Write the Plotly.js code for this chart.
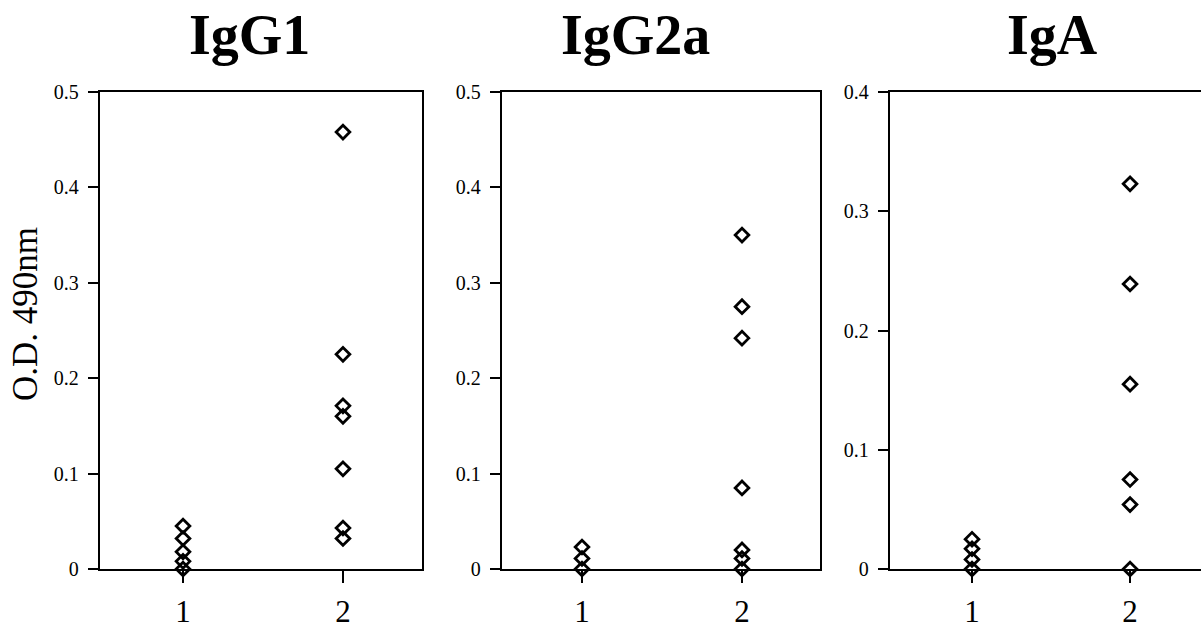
<!DOCTYPE html>
<html>
<head>
<meta charset="utf-8">
<script src="https://cdn.plot.ly/plotly-3.0.1.min.js"></script>
<style>html,body{margin:0;padding:0;background:#fff;}#chart{width:1201px;height:632px;}</style>
</head>
<body>
<div id="chart"></div>
<script>
// ---- data ----
const panelTitles = ['IgG1', 'IgG2a', 'IgA'];
const groups = [1, 2];
const groupLabels = ['1', '2'];
const yTitle = 'O.D. 490nm';

const igg1_g1 = [0.045, 0.032, 0.018, 0.008, 0];
const igg1_g2 = [0.458, 0.225, 0.171, 0.160, 0.105, 0.043, 0.032];
const igg2a_g1 = [0.023, 0.011, 0];
const igg2a_g2 = [0.350, 0.275, 0.242, 0.085, 0.020, 0.011, 0];
const iga_g1 = [0.025, 0.017, 0.008, 0];
const iga_g2 = [0.323, 0.239, 0.155, 0.075, 0.054, 0];

const yMax = [0.5, 0.5, 0.4];

// ---- build ----
(function () {
  const W = 1201, H = 632;
  const FONT = 'Liberation Serif, Times New Roman, serif';
  const panelData = [[igg1_g1, igg1_g2], [igg2a_g1, igg2a_g2], [iga_g1, iga_g2]];

  const traces = [];
  panelData.forEach((pd, p) => {
    const xs = [], ys = [];
    pd.forEach((vals, g) => vals.forEach(v => { xs.push(groups[g]); ys.push(v); }));
    traces.push({
      type: 'scatter', mode: 'markers',
      x: xs, y: ys,
      xaxis: p === 0 ? 'x' : 'x' + (p + 1),
      yaxis: p === 0 ? 'y' : 'y' + (p + 1),
      cliponaxis: false,
      marker: {symbol: 'diamond-open', size: 10.5, color: '#000', line: {color: '#000', width: 2.8}},
      hoverinfo: 'skip', showlegend: false
    });
  });

  const frames = [
    {l: 100, r: 422, xr: [0.481, 2.494], mirrorY: true},
    {l: 502, r: 820, xr: [0.5, 2.4875], mirrorY: true},
    {l: 890, r: 1201, xr: [0.481, 2.449], mirrorY: false}
  ];
  const topPx = 92, bottomPx = 569;

  const layout = {
    width: W, height: H,
    margin: {l: 0, r: 0, t: 0, b: 0},
    paper_bgcolor: '#fff', plot_bgcolor: '#fff',
    showlegend: false,
    font: {family: FONT, color: '#000'},
    annotations: []
  };

  frames.forEach((f, i) => {
    const xk = i === 0 ? 'xaxis' : 'xaxis' + (i + 1);
    const yk = i === 0 ? 'yaxis' : 'yaxis' + (i + 1);
    layout[xk] = {
      domain: [f.l / W, f.r / W], range: f.xr,
      anchor: i === 0 ? 'y' : 'y' + (i + 1),
      tickmode: 'array', tickvals: groups, ticktext: groupLabels,
      ticks: 'outside', ticklen: 12, tickwidth: 2, tickcolor: '#000',
      showline: true, linecolor: '#000', linewidth: 2.2, mirror: true,
      showgrid: false, zeroline: false,
      tickfont: {family: FONT, size: 31, color: '#000'},
      ticklabelstandoff: 2,
      fixedrange: true
    };
    layout[yk] = {
      domain: [1 - bottomPx / H, 1 - topPx / H], range: [0, yMax[i]],
      anchor: i === 0 ? 'x' : 'x' + (i + 1),
      dtick: 0.1, tick0: 0,
      ticks: 'outside', ticklen: 10, tickwidth: 2, tickcolor: '#000',
      showline: true, linecolor: '#000', linewidth: 2.2, mirror: f.mirrorY,
      showgrid: false, zeroline: false,
      tickfont: {family: FONT, size: 20, color: '#000'},
      ticklabelstandoff: 5,
      fixedrange: true
    };
  });

  const titleCenters = [250, 635, 1052];
  panelTitles.forEach((t, i) => {
    layout.annotations.push({
      text: '<b>' + t + '</b>', xref: 'paper', yref: 'paper',
      x: titleCenters[i] / W, y: 1 - 35 / H,
      xanchor: 'center', yanchor: 'middle', showarrow: false,
      font: {family: FONT, size: 56, color: '#000'}
    });
  });
  layout.annotations.push({
    text: yTitle, xref: 'paper', yref: 'paper',
    x: 25 / W, y: 1 - 314 / H, xanchor: 'center', yanchor: 'middle',
    textangle: -90, showarrow: false,
    font: {family: FONT, size: 35, color: '#000'}
  });

  Plotly.newPlot('chart', traces, layout, {staticPlot: true, displayModeBar: false});
})();
</script>
</body>
</html>
